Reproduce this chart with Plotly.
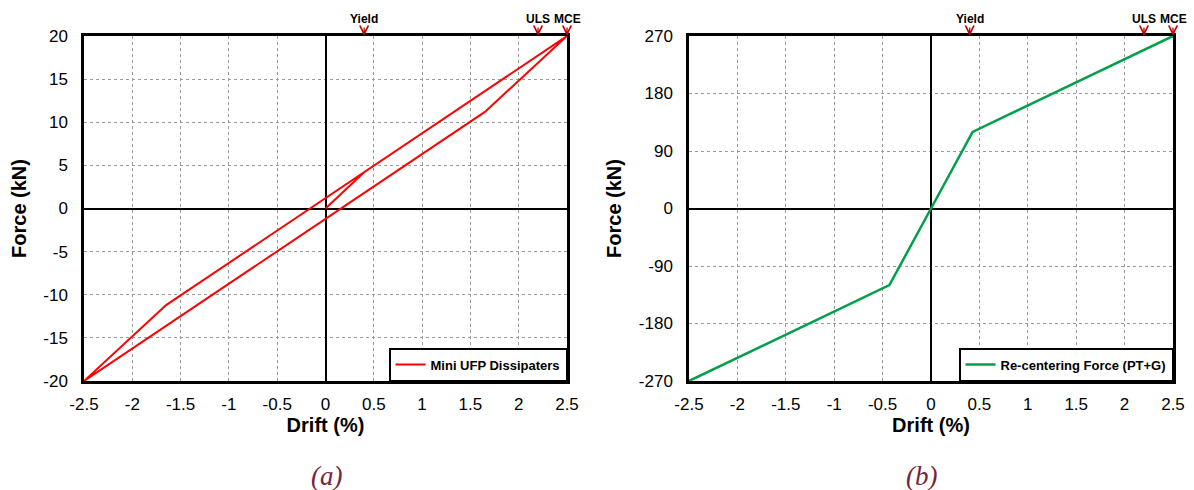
import plotly.graph_objects as go
from plotly.subplots import make_subplots

# Mini UFP dissipater loop: initial loading, full push, unload, reverse, reload
ufp_drift = [0.0, 0.4, 2.5, 1.65, -2.5, -1.65, 2.5]
ufp_force = [0.0, 4.2, 20.0, 11.2, -20.0, -11.2, 20.0]

# Re-centering force (PT + gravity): bilinear elastic
rc_drift = [-2.5, -0.43, 0.0, 0.43, 2.5]
rc_force = [-270.0, -120.0, 0.0, 120.0, 270.0]

x_ticks = [-2.5, -2, -1.5, -1, -0.5, 0, 0.5, 1, 1.5, 2, 2.5]
x_tick_text = ["-2.5", "-2", "-1.5", "-1", "-0.5", "0", "0.5", "1", "1.5", "2", "2.5"]
ya_ticks = [-20, -15, -10, -5, 0, 5, 10, 15, 20]
ya_tick_text = ["-20", "-15", "-10", "-5", "0", "5", "10", "15", "20"]
yb_ticks = [-270, -180, -90, 0, 90, 180, 270]
yb_tick_text = ["-270", "-180", "-90", "0", "90", "180", "270"]

# Performance levels marked along the top edge
levels = ["Yield", "ULS", "MCE"]
level_drift = [0.4, 2.2, 2.5]

FONT = "Liberation Sans, Arial, sans-serif"

fig = make_subplots(rows=1, cols=2)

fig.add_trace(go.Scatter(x=ufp_drift, y=ufp_force, mode="lines",
                         line=dict(color="#FF0000", width=2),
                         name="Mini UFP Dissipaters", legend="legend"),
              row=1, col=1)
fig.add_trace(go.Scatter(x=rc_drift, y=rc_force, mode="lines",
                         line=dict(color="#00A04A", width=2.5),
                         name="Re-centering Force (PT+G)", legend="legend2"),
              row=1, col=2)

dom_y = [109 / 490, 454 / 490]
dom_xa = [84 / 1194, 567 / 1194]
dom_xb = [689 / 1194, 1173 / 1194]

axis_common = dict(
    automargin=False,
    showline=True, mirror=True, linecolor="black", linewidth=2.5,
    showgrid=True, gridcolor="#9a9a9a", griddash="dot", gridwidth=1,
    zeroline=True, zerolinecolor="black", zerolinewidth=1.5,
    ticks="", tickfont=dict(family=FONT, size=17, color="black"),
)

fig.update_xaxes(axis_common, range=[-2.5, 2.5], tickvals=x_ticks, ticktext=x_tick_text,
                 ticklabelstandoff=6,
                 title=dict(text="Drift (%)", standoff=3,
                            font=dict(family=FONT, size=20, color="black", weight="bold")))
fig.update_xaxes(domain=dom_xa, row=1, col=1)
fig.update_xaxes(domain=dom_xb, row=1, col=2)

fig.update_yaxes(axis_common, domain=dom_y, ticklabelstandoff=10,
                 title=dict(standoff=12,
                            text="Force (kN)",
                            font=dict(family=FONT, size=20, color="black", weight="bold")))
fig.update_yaxes(range=[-20, 20], tickvals=ya_ticks, ticktext=ya_tick_text, row=1, col=1)
fig.update_yaxes(range=[-270, 270], tickvals=yb_ticks, ticktext=yb_tick_text, row=1, col=2)

legend_common = dict(
    xref="paper", yref="paper", xanchor="right", yanchor="bottom",
    y=dom_y[0], bgcolor="white", bordercolor="black", borderwidth=1.5,
    font=dict(family=FONT, size=13, color="black", weight="bold"),
    itemwidth=30, tracegroupgap=0,
)
fig.update_layout(
    legend=dict(legend_common, x=dom_xa[1]),
    legend2=dict(legend_common, x=dom_xb[1]),
)

annotations = []
for xref, yref in (("x", "y domain"), ("x2", "y2 domain")):
    for name, d in zip(levels, level_drift):
        annotations.append(dict(
            x=d, y=1, xref=xref, yref=yref, text=name,
            showarrow=True, ax=0, ay=-17, arrowhead=5, arrowsize=1.3,
            arrowwidth=1.3, arrowcolor="#C00000", standoff=0,
            font=dict(family=FONT, size=12, color="black", weight="bold"),
        ))

caption_font = dict(family="Liberation Serif, Times New Roman, serif", size=27,
                    color="#7B2338", style="italic")
annotations.append(dict(x=326 / 1194, y=14 / 490, xref="paper", yref="paper",
                        xanchor="center", yanchor="middle", text="(a)",
                        showarrow=False, font=caption_font))
annotations.append(dict(x=921 / 1194, y=14 / 490, xref="paper", yref="paper",
                        xanchor="center", yanchor="middle", text="(b)",
                        showarrow=False, font=caption_font))

fig.update_layout(
    annotations=annotations,
    width=1194, height=490,
    margin=dict(l=0, r=0, t=0, b=0),
    paper_bgcolor="white", plot_bgcolor="white",
    showlegend=True,
)

fig.write_html("out.html")
